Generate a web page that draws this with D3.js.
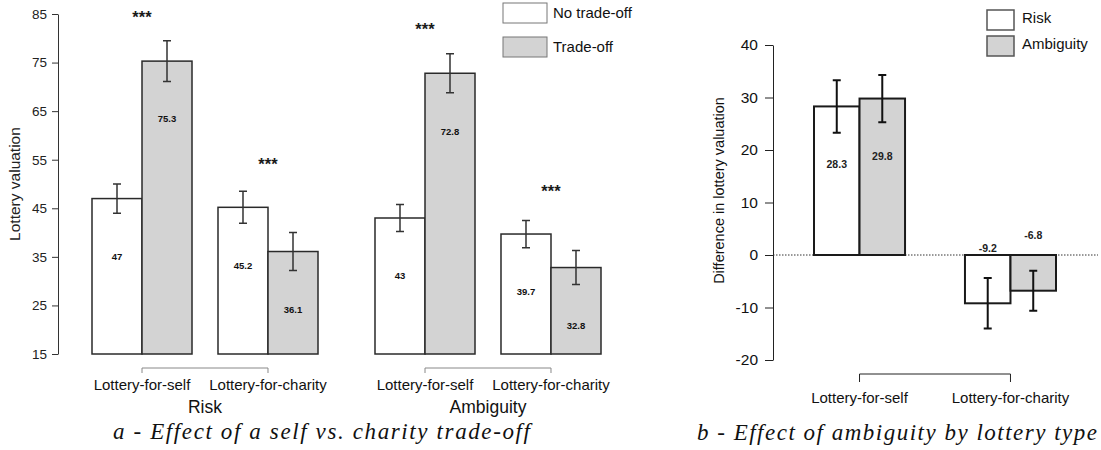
<!DOCTYPE html>
<html>
<head>
<meta charset="utf-8">
<script src="https://cdn.jsdelivr.net/npm/d3@7"></script>
<style>
  body { margin: 0; background: #fff; }
  svg { display: block; font-family: "Liberation Sans", Arial, sans-serif; }
  .caption { font-family: "Liberation Serif", "DejaVu Serif", serif; font-style: italic; }
</style>
</head>
<body>
<svg id="chart" width="1101" height="450"></svg>
<script>
// panel a: lottery valuation, by uncertainty x lottery type x trade-off
const uncertaintyTypes = ["Risk", "Ambiguity"];
const lotteryTypes = ["Lottery-for-self", "Lottery-for-charity"];
const tradeSeries = ["No trade-off", "Trade-off"];
// order: Risk self, Risk charity, Ambiguity self, Ambiguity charity
const noTradeoffMeans = [47, 45.2, 43, 39.7];
const tradeoffMeans = [75.3, 36.1, 72.8, 32.8];
const noTradeoffErr = [3.0, 3.3, 2.8, 2.8];
const tradeoffErr = [4.2, 3.9, 4.0, 3.5];
const starLevels = [85.2, 54.9, 82.7, 49.4];
const valuationTicks = [15, 25, 35, 45, 55, 65, 75, 85];

// panel b: difference in valuation (trade-off minus no trade-off)
const diffSeries = ["Risk", "Ambiguity"];
const riskDiff = [28.3, -9.2];
const ambiguityDiff = [29.8, -6.8];
const riskDiffErr = [5.0, 4.8];
const ambiguityDiffErr = [4.5, 3.8];
const diffTicks = [-20, -10, 0, 10, 20, 30, 40];

const fillFor = { "No trade-off": "#ffffff", "Trade-off": "#d3d3d3", Risk: "#ffffff", Ambiguity: "#d3d3d3" };

const svg = d3.select("#chart");

function errorBar(g, x, yTop, yBottom, cap, color, width) {
  g.append("path")
    .attr("d", `M${x - cap},${yTop}H${x + cap}M${x},${yTop}V${yBottom}M${x - cap},${yBottom}H${x + cap}`)
    .attr("fill", "none")
    .attr("stroke", color)
    .attr("stroke-width", width);
}

function bracket(g, x1, x2, y, tick, color) {
  g.append("path")
    .attr("d", `M${x1},${y + tick}V${y}H${x2}V${y + tick}`)
    .attr("fill", "none")
    .attr("stroke", color)
    .attr("stroke-width", 1);
}

// plain hyphen for negatives, like the R output
const plainNumber = (d) => String(d);

// ---------- panel a ----------
function drawPanelA() {
  const g = svg.append("g").attr("class", "panel-a");

  const y = d3.scaleLinear().domain([15, 85]).range([354, 14]);
  const xGroup = d3.scaleBand().domain(uncertaintyTypes).range([92, 601]).paddingInner(0.2014);
  const xType = d3.scaleBand().domain(lotteryTypes).range([0, xGroup.bandwidth()]).paddingInner(0.2063);
  const xSeries = d3.scaleBand().domain(tradeSeries).range([0, xType.bandwidth()]);

  const rows = [];
  uncertaintyTypes.forEach((u, ui) => {
    lotteryTypes.forEach((t, ti) => {
      const i = ui * 2 + ti;
      rows.push({ u, t, series: "No trade-off", value: noTradeoffMeans[i], err: noTradeoffErr[i] });
      rows.push({ u, t, series: "Trade-off", value: tradeoffMeans[i], err: tradeoffErr[i] });
    });
  });
  const barX = (d) => xGroup(d.u) + xType(d.t) + xSeries(d.series);
  const pairCenter = (u, t) => xGroup(u) + xType(t) + xType.bandwidth() / 2;

  // y axis
  const axis = g.append("g")
    .attr("transform", "translate(58,0)")
    .call(d3.axisLeft(y).tickValues(valuationTicks).tickFormat(plainNumber).tickSize(6).tickSizeOuter(0).tickPadding(5));
  axis.selectAll("path, line").attr("stroke", "#333");
  axis.selectAll("text").attr("font-size", 13.5).attr("fill", "#222").attr("font-family", "Liberation Sans, Arial, sans-serif");

  g.append("text")
    .attr("transform", `translate(20,${(y(15) + y(85)) / 2}) rotate(-90)`)
    .attr("text-anchor", "middle")
    .attr("font-size", 15.5)
    .attr("fill", "#222")
    .text("Lottery valuation");

  // bars
  g.append("g").selectAll("rect")
    .data(rows)
    .join("rect")
    .attr("x", barX)
    .attr("y", (d) => y(d.value))
    .attr("width", xSeries.bandwidth())
    .attr("height", (d) => y(15) - y(d.value))
    .attr("fill", (d) => fillFor[d.series])
    .attr("stroke", "#2a2a2a")
    .attr("stroke-width", 1.5);

  // error bars
  const eg = g.append("g");
  rows.forEach((d) => {
    const cx = barX(d) + xSeries.bandwidth() / 2;
    errorBar(eg, cx, y(d.value + d.err), y(d.value - d.err), 4, "#333", 1.5);
  });

  // value labels inside bars
  g.append("g").selectAll("text")
    .data(rows)
    .join("text")
    .attr("x", (d) => barX(d) + xSeries.bandwidth() / 2)
    .attr("y", (d) => y(d.value) + 58)
    .attr("dy", "0.35em")
    .attr("text-anchor", "middle")
    .attr("font-size", 9.5)
    .attr("font-weight", "bold")
    .attr("fill", "#111")
    .text((d) => d.value);

  // significance stars
  const starRows = [];
  uncertaintyTypes.forEach((u, ui) => lotteryTypes.forEach((t, ti) => starRows.push({ u, t, level: starLevels[ui * 2 + ti] })));
  g.append("g").selectAll("text")
    .data(starRows)
    .join("text")
    .attr("x", (d) => pairCenter(d.u, d.t))
    .attr("y", (d) => y(d.level))
    .attr("dy", "0.62em")
    .attr("text-anchor", "middle")
    .attr("font-size", 16.5)
    .attr("font-weight", "bold")
    .attr("fill", "#1a1a1a")
    .text("***");

  // category labels, brackets, group labels
  uncertaintyTypes.forEach((u) => {
    const x1 = pairCenter(u, lotteryTypes[0]);
    const x2 = pairCenter(u, lotteryTypes[1]);
    bracket(g, x1, x2, 368, 5, "#888");
    lotteryTypes.forEach((t) => {
      g.append("text")
        .attr("x", pairCenter(u, t))
        .attr("y", 385)
        .attr("dy", "0.35em")
        .attr("text-anchor", "middle")
        .attr("font-size", 15)
        .attr("fill", "#111")
        .text(t);
    });
    g.append("text")
      .attr("x", (x1 + x2) / 2)
      .attr("y", 407)
      .attr("dy", "0.35em")
      .attr("text-anchor", "middle")
      .attr("font-size", 17.5)
      .attr("fill", "#111")
      .text(u);
  });

  // legend
  const legend = g.append("g").attr("transform", "translate(503,3)");
  tradeSeries.forEach((s, i) => {
    legend.append("rect")
      .attr("x", 0).attr("y", i * 34)
      .attr("width", 44).attr("height", 20)
      .attr("fill", fillFor[s])
      .attr("stroke", "#777")
      .attr("stroke-width", 1);
    legend.append("text")
      .attr("x", 50).attr("y", i * 34 + 10)
      .attr("dy", "0.35em")
      .attr("font-size", 15)
      .attr("fill", "#111")
      .text(s);
  });

  g.append("text")
    .attr("class", "caption")
    .attr("x", 113).attr("y", 431)
    .attr("dy", "0.35em")
    .attr("font-size", 23)
    .attr("fill", "#111")
    .attr("textLength", 417)
    .attr("lengthAdjust", "spacing")
    .text("a - Effect of a self vs. charity trade-off");
}

// ---------- panel b ----------
function drawPanelB() {
  const g = svg.append("g").attr("class", "panel-b");

  const y = d3.scaleLinear().domain([-20, 40]).range([360, 45]);
  const xType = d3.scaleBand().domain(lotteryTypes).range([814, 1056]).paddingInner(0.397);
  const xSeries = d3.scaleBand().domain(diffSeries).range([0, xType.bandwidth()]);

  const rows = [];
  lotteryTypes.forEach((t, i) => {
    rows.push({ t, series: "Risk", value: riskDiff[i], err: riskDiffErr[i] });
    rows.push({ t, series: "Ambiguity", value: ambiguityDiff[i], err: ambiguityDiffErr[i] });
  });
  const barX = (d) => xType(d.t) + xSeries(d.series);
  const typeCenter = (t) => xType(t) + xType.bandwidth() / 2;

  const axis = g.append("g")
    .attr("transform", "translate(773,0)")
    .call(d3.axisLeft(y).tickValues(diffTicks).tickFormat(plainNumber).tickSize(8).tickSizeOuter(0).tickPadding(7));
  axis.selectAll("path, line").attr("stroke", "#222");
  axis.selectAll("text").attr("font-size", 15.5).attr("fill", "#111").attr("font-family", "Liberation Sans, Arial, sans-serif");

  g.append("text")
    .attr("transform", `translate(724,${(y(-20) + y(40)) / 2 - 12}) rotate(-90)`)
    .attr("text-anchor", "middle")
    .attr("font-size", 14.5)
    .attr("fill", "#111")
    .text("Difference in lottery valuation");

  // zero reference line
  g.append("line")
    .attr("x1", 773).attr("x2", 1098)
    .attr("y1", y(0)).attr("y2", y(0))
    .attr("stroke", "#333")
    .attr("stroke-width", 1)
    .attr("stroke-dasharray", "1.5,1.5");

  g.append("g").selectAll("rect")
    .data(rows)
    .join("rect")
    .attr("x", barX)
    .attr("y", (d) => Math.min(y(d.value), y(0)))
    .attr("width", xSeries.bandwidth())
    .attr("height", (d) => Math.abs(y(d.value) - y(0)))
    .attr("fill", (d) => fillFor[d.series])
    .attr("stroke", "#1a1a1a")
    .attr("stroke-width", 2);

  const eg = g.append("g");
  rows.forEach((d) => {
    const cx = barX(d) + xSeries.bandwidth() / 2;
    errorBar(eg, cx, y(d.value + d.err), y(d.value - d.err), 4, "#111", 2);
  });

  g.append("g").selectAll("text")
    .data(rows)
    .join("text")
    .attr("x", (d) => barX(d) + xSeries.bandwidth() / 2)
    .attr("y", (d) => (d.value >= 0 ? y(d.value) + 58 : y(d.value) - 55))
    .attr("dy", "0.35em")
    .attr("text-anchor", "middle")
    .attr("font-size", 10.5)
    .attr("font-weight", "bold")
    .attr("fill", "#222")
    .text((d) => d.value);

  bracket(g, typeCenter(lotteryTypes[0]), typeCenter(lotteryTypes[1]), 374, 8, "#222");
  lotteryTypes.forEach((t) => {
    g.append("text")
      .attr("x", typeCenter(t))
      .attr("y", 398)
      .attr("dy", "0.35em")
      .attr("text-anchor", "middle")
      .attr("font-size", 15)
      .attr("fill", "#111")
      .text(t);
  });

  const legend = g.append("g").attr("transform", "translate(987,10)");
  diffSeries.forEach((s, i) => {
    legend.append("rect")
      .attr("x", 0).attr("y", i * 26)
      .attr("width", 27).attr("height", 20)
      .attr("fill", fillFor[s])
      .attr("stroke", "#555")
      .attr("stroke-width", 1.5);
    legend.append("text")
      .attr("x", 35).attr("y", i * 26 + 8)
      .attr("dy", "0.35em")
      .attr("font-size", 15)
      .attr("fill", "#111")
      .text(s);
  });

  g.append("text")
    .attr("class", "caption")
    .attr("x", 697).attr("y", 432)
    .attr("dy", "0.35em")
    .attr("font-size", 23)
    .attr("fill", "#111")
    .attr("textLength", 400)
    .attr("lengthAdjust", "spacing")
    .text("b - Effect of ambiguity by lottery type");
}

drawPanelA();
drawPanelB();
</script>
</body>
</html>
